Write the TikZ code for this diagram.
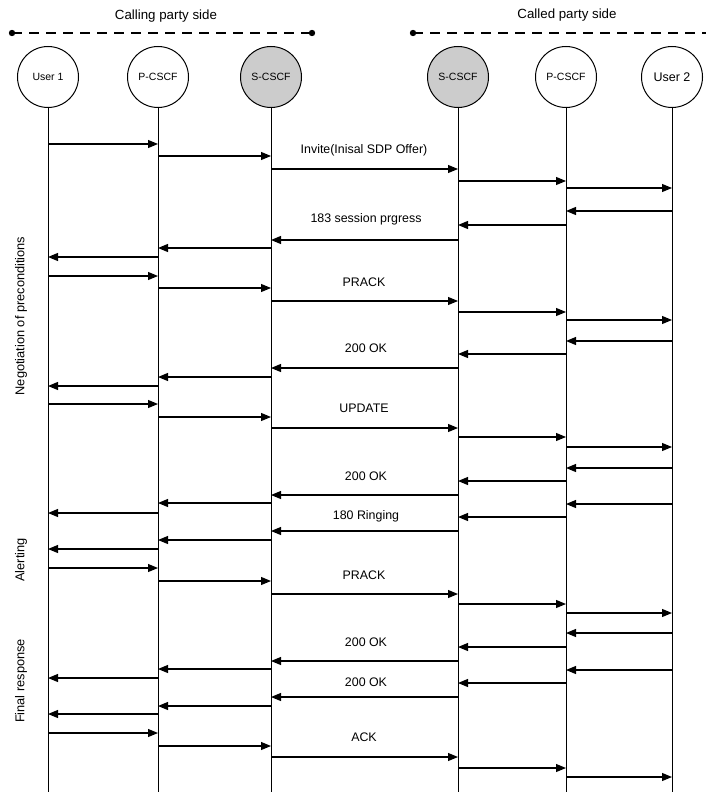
\documentclass[tikz,border=0pt]{standalone}
\usepackage{fontspec}
\setmainfont{Liberation Sans}
\usetikzlibrary{arrows.meta}
\begin{document}
\begin{tikzpicture}[x=1pt, y=-1pt,
  party/.style={draw, circle, line width=1pt, minimum size=61pt, inner sep=0pt,
                font=\fontsize{10.5}{12}\selectfont},
  server/.style={party, fill=gray!40},
  life/.style={line width=0.9pt},
  msg/.style={line width=1.1pt, -{Triangle[length=10pt, width=8pt]}},
  lab/.style={font=\fontsize{12.4}{14}\selectfont},
  head/.style={font=\fontsize{13.3}{15}\selectfont},
  side/.style={line width=1.6pt, dash pattern=on 10pt off 7pt},
  phase/.style={font=\fontsize{12.8}{15}\selectfont, rotate=90}]
  \useasboundingbox (0,0) rectangle (709,794);
  % party sides
  \node[head] (calling) at (166,16) {Calling party side};
  \node[head] (called) at (567,15) {Called party side};
  \coordinate (cl1) at (12,33); \coordinate (cl2) at (312,33);
  \coordinate (cd1) at (413,33); \coordinate (cd2) at (706,33);
  \draw[side] (cl1) -- (cl2);
  \draw[side] (cd1) -- (cd2);
  \fill (cl1) circle (3.2pt) (cl2) circle (3.2pt) (cd1) circle (3.2pt);
  % entities
  \node[party] (u1) at (48,77) {User 1};
  \node[party] (p1) at (158,77) {P-CSCF};
  \node[server] (s1) at (271,77) {S-CSCF};
  \node[server] (s2) at (458,77) {S-CSCF};
  \node[party] (p2) at (566,77) {P-CSCF};
  \node[party, font=\fontsize{12.5}{14}\selectfont] (u2) at (672,77) {User 2};
  \foreach \n in {u1,p1,s1,s2,p2,u2}
    \draw[life] (\n.south) -- (\n |- 0,792);
  % requests, calling to called side
  \foreach \ya/\yb/\yc/\yd/\ye/\txt/\yt in {
      144/156/169/181/188/{Invite(Inisal SDP Offer)}/150,
      276/288/301/312/320/PRACK/282,
      404/417/428/437/447/UPDATE/408,
      568/581/594/604/613/PRACK/575,
      733/746/757/768/777/ACK/737} {
    \draw[msg] (u1 |- 0,\ya) -- (p1 |- 0,\ya);
    \draw[msg] (p1 |- 0,\yb) -- (s1 |- 0,\yb);
    \draw[msg] (s1 |- 0,\yc) -- (s2 |- 0,\yc);
    \draw[msg] (s2 |- 0,\yd) -- (p2 |- 0,\yd);
    \draw[msg] (p2 |- 0,\ye) -- (u2 |- 0,\ye);
    \node[lab] at (364,\yt) {\txt};
  }
  % responses, called to calling side
  \foreach \ya/\yb/\yc/\yd/\ye/\txt/\yt in {
      211/225/240/248/257/{183 session prgress}/219,
      341/354/368/377/386/200 OK/348,
      468/481/495/503/513/200 OK/476,
      504/517/531/540/549/180 Ringing/516,
      633/647/661/669/678/200 OK/642,
      670/683/697/706/714/200 OK/682} {
    \draw[msg] (u2 |- 0,\ya) -- (p2 |- 0,\ya);
    \draw[msg] (p2 |- 0,\yb) -- (s2 |- 0,\yb);
    \draw[msg] (s2 |- 0,\yc) -- (s1 |- 0,\yc);
    \draw[msg] (s1 |- 0,\yd) -- (p1 |- 0,\yd);
    \draw[msg] (p1 |- 0,\ye) -- (u1 |- 0,\ye);
    \node[lab] at (366,\yt) {\txt};
  }
  % phases
  \node[phase] (nego) at (21,316) {Negotiation of preconditions};
  \node[phase] (alert) at (21,560) {Alerting};
  \node[phase] (final) at (21,681) {Final response};
\end{tikzpicture}
\end{document}
